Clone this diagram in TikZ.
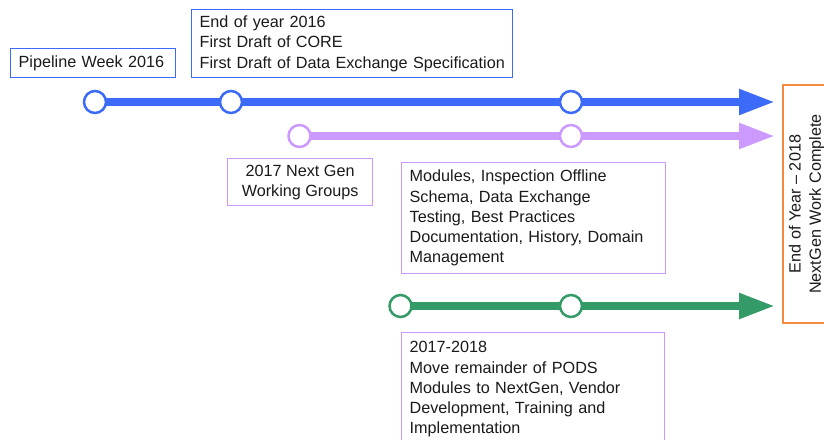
\documentclass[tikz,border=0pt]{standalone}
\usepackage{fontspec}
\setmainfont{Liberation Sans}
\usetikzlibrary{arrows.meta}
\definecolor{tlblue}{RGB}{60,107,250}
\definecolor{tlpurple}{RGB}{204,153,255}
\definecolor{tlgreen}{RGB}{52,154,103}
\definecolor{tlorange}{RGB}{246,139,63}
\definecolor{txtcol}{RGB}{26,26,26}
\begin{document}
\begin{tikzpicture}[x=1pt,y=-1pt,
  txtfont/.style={font=\fontsize{16.2}{20.2}\selectfont, text=txtcol},
  box/.style={txtfont, draw, rectangle, line width=1.3pt, inner xsep=8pt, inner ysep=0pt},
  track/.style={line width=8pt, -{Triangle[length=36pt,width=24pt]}},
  dot/.style={circle, draw, fill=white, line width=2.5pt, minimum size=22pt, inner sep=0pt},
]
\useasboundingbox (0,0) rectangle (824,439);
\clip (0,0) rectangle (824,439);

% track coordinates
\coordinate (b1) at (95,102);
\coordinate (b2) at (231,102);
\coordinate (b3) at (571,102);
\coordinate (bend) at (775,102);
\coordinate (p1) at (299.5,136);
\coordinate (p2) at (571,136);
\coordinate (pend) at (775,136);
\coordinate (g1) at (400.5,306);
\coordinate (g2) at (571,306);
\coordinate (gend) at (775,306);

% tracks
\draw[track, tlblue] (b1) -- (bend);
\draw[track, tlpurple] (p1) -- (pend);
\draw[track, tlgreen] (g1) -- (gend);

% milestone dots
\node[dot, draw=tlblue] (b1d) at (b1) {};
\node[dot, draw=tlblue] (b2d) at (b2) {};
\node[dot, draw=tlblue] (b3d) at (b3) {};
\node[dot, draw=tlpurple] (p1d) at (p1) {};
\node[dot, draw=tlpurple] (p2d) at (p2) {};
\node[dot, draw=tlgreen] (g1d) at (g1) {};
\node[dot, draw=tlgreen] (g2d) at (g2) {};

% text boxes
\node[box, draw=tlblue, anchor=north west, minimum height=29pt, text width=149pt, align=left]
  (pw) at (10,48) {Pipeline Week 2016};
\node[box, draw=tlblue, anchor=north west, minimum height=68pt, text width=305pt, align=left]
  (eoy16) at (191,9) {End of year 2016\\First Draft of CORE\\\mbox{First Draft of Data Exchange Specification}};
\node[box, draw=tlpurple, anchor=north west, minimum width=145pt, minimum height=47pt, align=center]
  (ng) at (227,158) {2017 Next Gen\\Working Groups};
\node[box, draw=tlpurple, anchor=north west, minimum height=111pt, text width=248pt, align=left]
  (mods) at (401,162) {Modules, Inspection Offline\\Schema, Data Exchange\\Testing, Best Practices\\\mbox{Documentation, History, Domain}\\Management};
\node[box, draw=tlpurple, anchor=north west, inner ysep=9pt, text width=247pt, align=left]
  (rem) at (401,332) {2017-2018\\Move remainder of PODS\\Modules to NextGen, Vendor\\Development, Training and\\Implementation};
\node[box, draw=tlorange, rotate=90, minimum width=238pt, minimum height=47pt, inner xsep=0pt, align=center]
  (fin) at (806.5,204) {End of Year – 2018\\NextGen Work Complete};
\end{tikzpicture}
\end{document}
